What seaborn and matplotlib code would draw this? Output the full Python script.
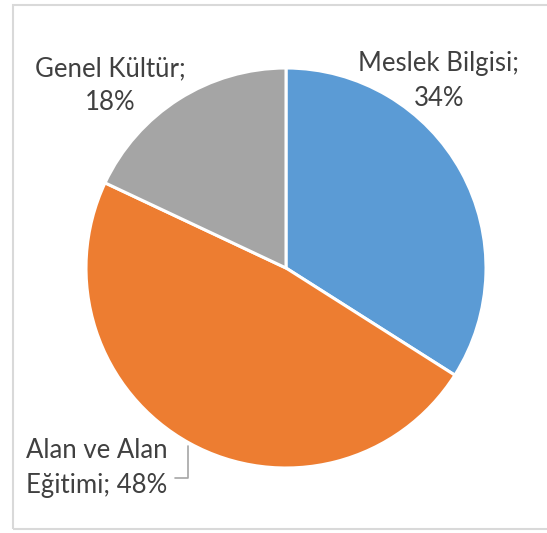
import matplotlib
matplotlib.use("Agg")
import matplotlib.pyplot as plt
import seaborn as sns
from matplotlib.patches import Rectangle

# data
categories = ["Meslek Bilgisi", "Alan ve Alan Eğitimi", "Genel Kültür"]
shares = [34, 48, 18]
colors = ["#5B9BD5", "#ED7D31", "#A5A5A5"]

sns.set_theme(style="white")
plt.rcParams['font.family'] = ['Lato', 'DejaVu Sans']

W, H = 547, 533
fig = plt.figure(figsize=(W / 100, H / 100), dpi=100)
ax = fig.add_axes([0, 0, 1, 1])

# pie in pixel coordinates (y measured from the bottom)
cx, cy, r = 286, H - 268, 200
wedges, _ = ax.pie(shares, colors=colors, startangle=90, counterclock=False,
                   center=(cx, cy), radius=r, frame=True,
                   wedgeprops=dict(edgecolor='white', linewidth=2.2))
ax.set_xlim(0, W)
ax.set_ylim(0, H)
ax.set_aspect('equal')
ax.axis('off')

txt = dict(color='#404040', fontsize=18.5, ha='center', va='center', linespacing=1.45)
labels = [f"{c}; {v}%" for c, v in zip(categories, shares)]
ax.text(439, H - 81, labels[0].replace("; ", ";\n"), **txt)
ax.text(110, H - 86, labels[2].replace("; ", ";\n"), **txt)
ax.text(97, H - 468, labels[1].replace("Alan Eğitimi", "Alan\nEğitimi"), **txt)

# leader line for the bottom label
ax.plot([188, 188, 175], [H - 446, H - 478, H - 478], color='#A6A6A6', lw=1.2)

# chart frame
fig.patches.append(Rectangle((13 / W, 1 - 529 / H), 560 / W, 524 / H,
                             transform=fig.transFigure, fill=False,
                             edgecolor='#D9D9D9', linewidth=1.5))

fig.savefig("out.png", dpi=100, facecolor='white')
